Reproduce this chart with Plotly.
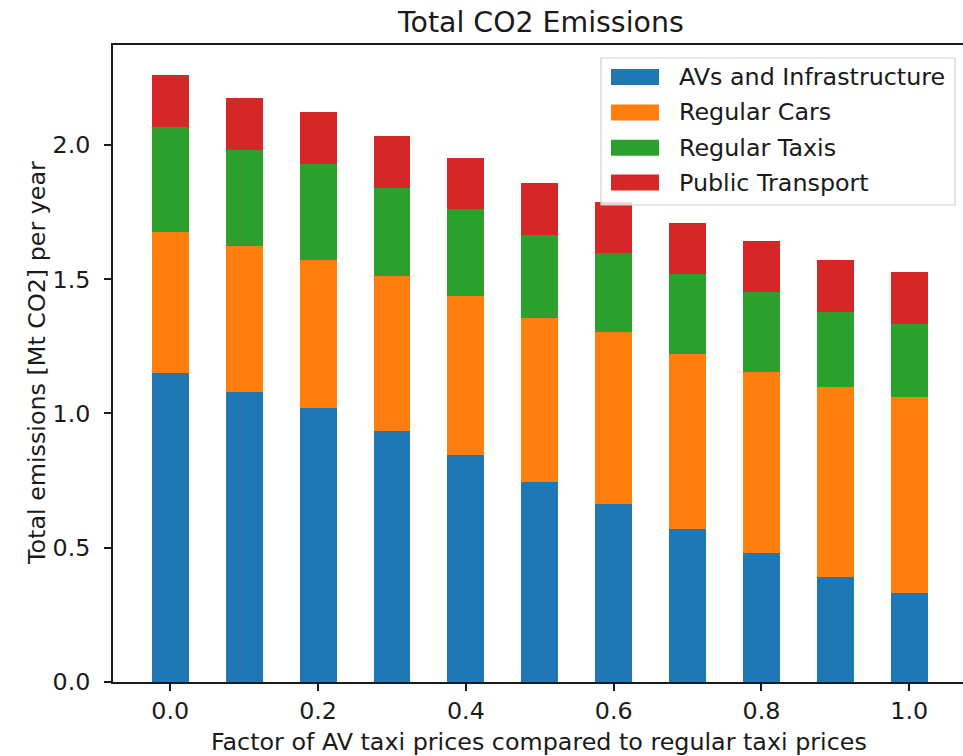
import plotly.graph_objects as go

# AV taxi price factor (relative to regular taxi prices)
price_factor = [0.0, 0.1, 0.2, 0.3, 0.4, 0.5, 0.6, 0.7, 0.8, 0.9, 1.0]

# Emissions per mode, Mt CO2 per year
av_infra = [1.151, 1.079, 1.019, 0.936, 0.846, 0.744, 0.662, 0.569, 0.479, 0.392, 0.330]
regular_cars = [0.523, 0.545, 0.553, 0.576, 0.591, 0.610, 0.641, 0.653, 0.676, 0.707, 0.732]
regular_taxis = [0.394, 0.358, 0.357, 0.326, 0.324, 0.310, 0.296, 0.296, 0.297, 0.280, 0.270]
public_transport = [0.191, 0.193, 0.193, 0.194, 0.190, 0.193, 0.189, 0.193, 0.191, 0.192, 0.193]

series_names = ["AVs and Infrastructure", "Regular Cars", "Regular Taxis", "Public Transport"]
series_values = [av_infra, regular_cars, regular_taxis, public_transport]
series_colors = ["#1f77b4", "#ff7f0e", "#2ca02c", "#d62728"]

x_ticks = [0.0, 0.2, 0.4, 0.6, 0.8, 1.0]
y_ticks = [0.0, 0.5, 1.0, 1.5, 2.0]

W, H = 963, 756
L, R, T, B = 113, 0, 45, 74
PW, PH = W - L - R, H - T - B
FONT = "DejaVu Sans"
INK = "#1a1a1a"
FS = 23.8        # body text size
FS_TITLE = 28.4  # title size


def px_x(p):
    return (p - L) / PW


def px_y(p):
    return (H - B - p) / PH


fig = go.Figure()
for name, vals, col in zip(series_names, series_values, series_colors):
    fig.add_trace(go.Bar(
        x=price_factor, y=vals, name=name, width=0.05,
        marker=dict(color=col, line=dict(width=0)),
        showlegend=False,
    ))

totals = [sum(v) for v in zip(*series_values)]
y_top = max(totals) * 1.05

fig.update_layout(
    width=W, height=H, barmode="stack",
    margin=dict(l=L, r=R, t=T, b=B, pad=0),
    paper_bgcolor="white", plot_bgcolor="white",
    font=dict(family=FONT, size=FS, color=INK),
    xaxis=dict(
        range=[-0.0775, 1.0727], tickvals=x_ticks, tickformat=".1f",
        showgrid=False, zeroline=False,
        showline=True, linecolor=INK, linewidth=1.6, mirror=True,
        ticks="outside", ticklen=7, tickwidth=1.5, tickcolor=INK,
        ticklabelstandoff=0,
    ),
    yaxis=dict(
        range=[0, y_top], tickvals=y_ticks, tickformat=".1f",
        showgrid=False, zeroline=False,
        showline=True, linecolor=INK, linewidth=1.6, mirror=False,
        ticks="outside", ticklen=7, tickwidth=1.5, tickcolor=INK,
        ticklabelstandoff=9,
    ),
)

annotations = [
    dict(text="Total CO2 Emissions", x=px_x(540), y=px_y(22), xref="paper", yref="paper",
         xanchor="center", yanchor="middle", showarrow=False,
         font=dict(size=FS_TITLE, family=FONT, color=INK)),
    dict(text="Factor of AV taxi prices compared to regular taxi prices",
         x=px_x(539), y=px_y(742), xref="paper", yref="paper",
         xanchor="center", yanchor="middle", showarrow=False,
         font=dict(size=FS, family=FONT, color=INK)),
    dict(text="Total emissions [Mt CO2] per year", textangle=-90,
         x=px_x(37), y=px_y(363), xref="paper", yref="paper",
         xanchor="center", yanchor="middle", showarrow=False,
         font=dict(size=FS, family=FONT, color=INK)),
]

# legend box with colour patches
shapes = [dict(type="rect", xref="paper", yref="paper",
               x0=px_x(601), x1=px_x(955), y0=px_y(205), y1=px_y(58),
               line=dict(color="#d0d0d0", width=1.2), fillcolor="rgba(255,255,255,0.8)",
               layer="above")]
row_centers = [77, 112.5, 147.7, 182.5]
for name, col, yc in zip(series_names, series_colors, row_centers):
    shapes.append(dict(type="rect", xref="paper", yref="paper",
                       x0=px_x(611), x1=px_x(659), y0=px_y(yc + 8), y1=px_y(yc - 8),
                       line=dict(width=0), fillcolor=col, layer="above"))
    annotations.append(dict(text=name, x=px_x(677), y=px_y(yc), xref="paper", yref="paper",
                            xanchor="left", yanchor="middle", showarrow=False,
                            font=dict(size=FS, family=FONT, color=INK)))

fig.update_layout(annotations=annotations, shapes=shapes)
fig.write_html("out.html")
